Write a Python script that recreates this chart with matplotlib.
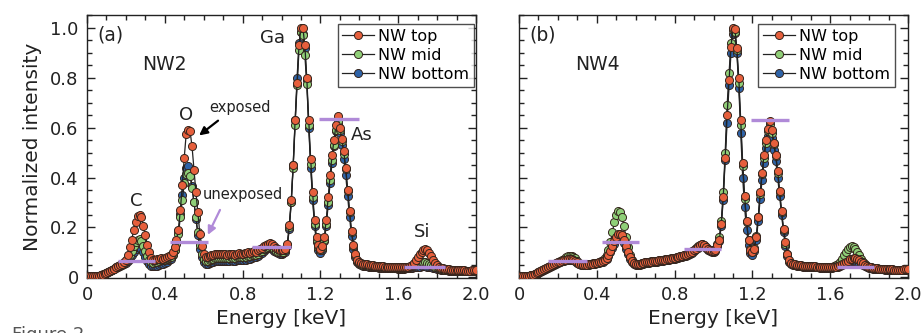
import numpy as np
import matplotlib
matplotlib.use("Agg")
import matplotlib.pyplot as plt
from matplotlib.ticker import MultipleLocator

# ---------------- data ----------------
energy = np.linspace(0.0, 2.0, 201)  # keV channels (10 eV)

nw2_top = [
    0.005,0.005,0.005,0.005,0.005,0.006,0.007,0.008,0.011,0.015,
    0.018,0.022,0.026,0.030,0.035,0.040,0.045,0.050,0.055,0.060,
    0.070,0.090,0.120,0.150,0.190,0.220,0.245,0.250,0.240,0.205,
    0.170,0.130,0.100,0.078,0.068,0.070,0.072,0.075,0.078,0.075,
    0.078,0.080,0.085,0.090,0.100,0.120,0.150,0.190,0.270,0.370,
    0.480,0.575,0.590,0.585,0.525,0.430,0.340,0.260,0.175,0.125,
    0.095,0.082,0.080,0.085,0.088,0.090,0.092,0.095,0.094,0.092,
    0.095,0.092,0.090,0.093,0.095,0.092,0.090,0.094,0.096,0.093,
    0.095,0.098,0.096,0.100,0.098,0.102,0.105,0.103,0.108,0.112,
    0.118,0.125,0.130,0.135,0.138,0.132,0.125,0.118,0.112,0.110,
    0.110,0.110,0.115,0.135,0.210,0.310,0.450,0.630,0.780,0.930,
    1.000,1.000,0.930,0.800,0.630,0.475,0.340,0.230,0.160,0.130,
    0.115,0.125,0.160,0.230,0.320,0.410,0.490,0.550,0.610,0.645,
    0.600,0.555,0.505,0.440,0.350,0.265,0.185,0.130,0.092,0.070,
    0.062,0.058,0.055,0.053,0.052,0.050,0.050,0.048,0.047,0.046,
    0.045,0.045,0.044,0.043,0.043,0.042,0.042,0.041,0.041,0.040,
    0.040,0.040,0.040,0.041,0.042,0.043,0.045,0.050,0.058,0.068,
    0.080,0.092,0.102,0.110,0.113,0.108,0.098,0.085,0.070,0.058,
    0.048,0.042,0.038,0.036,0.034,0.033,0.032,0.031,0.030,0.030,
    0.029,0.029,0.028,0.028,0.028,0.027,0.027,0.027,0.028,0.028,
    0.030]
nw2_mid = [
    0.005,0.005,0.005,0.005,0.006,0.006,0.007,0.009,0.012,0.015,
    0.019,0.022,0.026,0.031,0.035,0.040,0.044,0.050,0.054,0.058,
    0.064,0.075,0.090,0.105,0.125,0.140,0.150,0.152,0.145,0.125,
    0.105,0.085,0.070,0.062,0.058,0.060,0.063,0.066,0.068,0.068,
    0.070,0.073,0.078,0.083,0.092,0.110,0.135,0.175,0.240,0.310,
    0.380,0.415,0.420,0.405,0.360,0.300,0.240,0.180,0.130,0.095,
    0.075,0.066,0.064,0.068,0.072,0.074,0.076,0.078,0.078,0.077,
    0.079,0.078,0.077,0.079,0.080,0.078,0.077,0.080,0.082,0.080,
    0.082,0.084,0.083,0.086,0.085,0.088,0.091,0.090,0.095,0.100,
    0.106,0.112,0.118,0.122,0.124,0.120,0.113,0.107,0.102,0.100,
    0.100,0.102,0.108,0.128,0.200,0.300,0.440,0.610,0.770,0.910,
    0.985,0.970,0.890,0.775,0.610,0.455,0.320,0.215,0.150,0.120,
    0.108,0.118,0.150,0.215,0.300,0.390,0.470,0.530,0.590,0.625,
    0.590,0.545,0.495,0.435,0.345,0.260,0.180,0.125,0.088,0.066,
    0.058,0.054,0.051,0.049,0.048,0.047,0.046,0.045,0.044,0.043,
    0.042,0.042,0.041,0.041,0.040,0.040,0.040,0.039,0.039,0.039,
    0.038,0.038,0.038,0.039,0.040,0.041,0.043,0.046,0.049,0.052,
    0.055,0.058,0.060,0.061,0.060,0.058,0.055,0.051,0.047,0.043,
    0.040,0.036,0.034,0.032,0.031,0.030,0.029,0.029,0.028,0.028,
    0.028,0.027,0.027,0.027,0.026,0.026,0.026,0.027,0.027,0.027,
    0.028]
nw2_bottom = [
    0.004,0.004,0.004,0.005,0.005,0.006,0.007,0.008,0.011,0.014,
    0.017,0.021,0.025,0.029,0.033,0.038,0.042,0.046,0.050,0.054,
    0.058,0.065,0.075,0.088,0.100,0.112,0.120,0.122,0.115,0.100,
    0.082,0.064,0.052,0.046,0.044,0.045,0.047,0.050,0.053,0.055,
    0.058,0.062,0.068,0.075,0.088,0.108,0.140,0.185,0.255,0.330,
    0.400,0.440,0.445,0.420,0.365,0.300,0.235,0.170,0.115,0.080,
    0.060,0.052,0.052,0.056,0.060,0.062,0.064,0.066,0.066,0.065,
    0.067,0.066,0.065,0.067,0.068,0.066,0.065,0.068,0.070,0.068,
    0.070,0.072,0.071,0.074,0.073,0.076,0.080,0.080,0.085,0.092,
    0.098,0.105,0.112,0.116,0.118,0.114,0.106,0.100,0.096,0.094,
    0.094,0.096,0.103,0.125,0.195,0.300,0.450,0.630,0.800,0.940,
    0.985,0.975,0.920,0.790,0.600,0.440,0.310,0.205,0.140,0.108,
    0.098,0.110,0.145,0.205,0.290,0.380,0.460,0.525,0.585,0.615,
    0.580,0.530,0.475,0.410,0.325,0.240,0.165,0.112,0.080,0.060,
    0.052,0.049,0.047,0.045,0.044,0.043,0.042,0.041,0.040,0.040,
    0.039,0.039,0.038,0.038,0.037,0.037,0.037,0.036,0.036,0.036,
    0.035,0.035,0.035,0.035,0.036,0.037,0.038,0.039,0.040,0.041,
    0.042,0.043,0.044,0.044,0.044,0.043,0.042,0.041,0.039,0.037,
    0.035,0.033,0.031,0.030,0.029,0.028,0.027,0.027,0.026,0.026,
    0.026,0.025,0.025,0.025,0.025,0.024,0.024,0.025,0.025,0.025,
    0.026]

nw4_top = [
    0.005,0.005,0.005,0.005,0.006,0.007,0.008,0.010,0.013,0.016,
    0.020,0.024,0.028,0.032,0.036,0.040,0.044,0.048,0.052,0.056,
    0.060,0.063,0.066,0.068,0.070,0.072,0.073,0.072,0.070,0.066,
    0.060,0.055,0.052,0.050,0.050,0.051,0.052,0.054,0.055,0.056,
    0.058,0.060,0.062,0.065,0.070,0.078,0.090,0.105,0.125,0.145,
    0.160,0.172,0.175,0.168,0.150,0.125,0.100,0.080,0.065,0.056,
    0.052,0.052,0.054,0.056,0.058,0.060,0.060,0.062,0.063,0.064,
    0.066,0.066,0.068,0.069,0.070,0.071,0.072,0.074,0.075,0.076,
    0.078,0.080,0.082,0.084,0.086,0.088,0.090,0.092,0.096,0.102,
    0.108,0.115,0.122,0.128,0.132,0.130,0.122,0.114,0.108,0.105,
    0.105,0.110,0.130,0.150,0.215,0.320,0.480,0.650,0.790,0.925,
    1.000,0.995,0.920,0.800,0.632,0.460,0.325,0.225,0.150,0.110,
    0.100,0.115,0.160,0.240,0.340,0.420,0.490,0.550,0.595,0.625,
    0.590,0.540,0.490,0.425,0.345,0.265,0.195,0.140,0.095,0.068,
    0.058,0.054,0.052,0.050,0.049,0.048,0.047,0.046,0.046,0.045,
    0.045,0.044,0.044,0.043,0.043,0.043,0.042,0.042,0.042,0.042,
    0.041,0.041,0.042,0.043,0.045,0.048,0.052,0.057,0.062,0.067,
    0.072,0.075,0.077,0.076,0.073,0.068,0.062,0.056,0.050,0.046,
    0.042,0.040,0.038,0.037,0.036,0.035,0.034,0.034,0.033,0.033,
    0.032,0.032,0.032,0.031,0.031,0.031,0.031,0.031,0.032,0.032,
    0.033]
nw4_mid = [
    0.005,0.005,0.005,0.006,0.006,0.007,0.008,0.010,0.013,0.016,
    0.020,0.024,0.028,0.032,0.036,0.040,0.045,0.049,0.053,0.057,
    0.061,0.065,0.070,0.075,0.080,0.084,0.087,0.087,0.083,0.076,
    0.066,0.058,0.053,0.051,0.051,0.052,0.053,0.055,0.056,0.057,
    0.059,0.062,0.065,0.070,0.078,0.090,0.110,0.140,0.180,0.220,
    0.250,0.265,0.262,0.240,0.205,0.160,0.120,0.090,0.070,0.058,
    0.053,0.053,0.055,0.057,0.059,0.061,0.061,0.063,0.064,0.065,
    0.067,0.067,0.069,0.070,0.071,0.072,0.073,0.075,0.076,0.077,
    0.079,0.081,0.083,0.085,0.087,0.089,0.091,0.094,0.098,0.104,
    0.110,0.117,0.124,0.130,0.134,0.131,0.123,0.115,0.110,0.108,
    0.108,0.115,0.135,0.160,0.225,0.340,0.500,0.690,0.820,0.940,
    0.990,0.985,0.910,0.780,0.610,0.445,0.315,0.220,0.148,0.112,
    0.102,0.118,0.165,0.240,0.335,0.415,0.480,0.540,0.585,0.615,
    0.580,0.535,0.485,0.420,0.340,0.260,0.190,0.135,0.092,0.066,
    0.057,0.053,0.051,0.049,0.048,0.047,0.046,0.046,0.045,0.045,
    0.044,0.044,0.043,0.043,0.043,0.042,0.042,0.042,0.042,0.042,
    0.042,0.043,0.045,0.049,0.055,0.063,0.074,0.088,0.102,0.113,
    0.120,0.124,0.122,0.115,0.103,0.088,0.074,0.062,0.053,0.047,
    0.043,0.040,0.038,0.037,0.036,0.035,0.034,0.034,0.033,0.033,
    0.032,0.032,0.032,0.031,0.031,0.031,0.031,0.031,0.032,0.032,
    0.033]
nw4_bottom = [
    0.004,0.004,0.005,0.005,0.006,0.007,0.008,0.010,0.012,0.015,
    0.019,0.023,0.027,0.031,0.035,0.039,0.043,0.047,0.051,0.055,
    0.058,0.061,0.064,0.066,0.068,0.070,0.071,0.070,0.068,0.064,
    0.058,0.053,0.050,0.048,0.048,0.049,0.050,0.052,0.053,0.054,
    0.056,0.058,0.060,0.063,0.068,0.075,0.086,0.100,0.118,0.135,
    0.148,0.156,0.158,0.152,0.136,0.115,0.093,0.075,0.061,0.053,
    0.049,0.049,0.051,0.053,0.055,0.057,0.057,0.059,0.060,0.061,
    0.063,0.063,0.065,0.066,0.067,0.068,0.069,0.071,0.072,0.073,
    0.075,0.077,0.079,0.081,0.083,0.085,0.087,0.089,0.093,0.099,
    0.105,0.112,0.118,0.124,0.128,0.126,0.118,0.110,0.104,0.101,
    0.101,0.106,0.125,0.145,0.205,0.310,0.470,0.620,0.770,0.900,
    0.975,0.980,0.900,0.760,0.580,0.400,0.280,0.190,0.130,0.098,
    0.090,0.105,0.150,0.225,0.315,0.390,0.460,0.520,0.565,0.595,
    0.560,0.510,0.465,0.400,0.325,0.250,0.180,0.125,0.085,0.062,
    0.054,0.050,0.048,0.046,0.045,0.044,0.043,0.043,0.042,0.042,
    0.041,0.041,0.040,0.040,0.040,0.039,0.039,0.039,0.039,0.039,
    0.039,0.039,0.040,0.041,0.043,0.045,0.048,0.052,0.056,0.060,
    0.063,0.065,0.066,0.065,0.063,0.059,0.055,0.050,0.046,0.042,
    0.039,0.037,0.035,0.034,0.033,0.033,0.032,0.032,0.031,0.031,
    0.030,0.030,0.030,0.030,0.029,0.029,0.029,0.029,0.030,0.030,
    0.031]

# background integration windows (start, end, level)
nw2_bg_start = [0.16, 0.425, 0.85, 1.195, 1.63]
nw2_bg_end   = [0.35, 0.62, 1.05, 1.40, 1.84]
nw2_bg_level = [0.064, 0.14, 0.12, 0.635, 0.04]
nw4_bg_start = [0.15, 0.425, 0.85, 1.195, 1.635]
nw4_bg_end   = [0.35, 0.615, 1.04, 1.39, 1.825]
nw4_bg_level = [0.065, 0.14, 0.115, 0.63, 0.043]

series_labels = ["NW top", "NW mid", "NW bottom"]
xtick_vals = [0, 0.4, 0.8, 1.2, 1.6, 2.0]
xtick_labels = ["0", "0.4", "0.8", "1.2", "1.6", "2.0"]
ytick_vals = [0, 0.2, 0.4, 0.6, 0.8, 1.0]
ytick_labels = ["0", "0.2", "0.4", "0.6", "0.8", "1.0"]

# ---------------- style ----------------
plt.rcParams['font.family'] = ['DejaVu Sans']
fill_colors = {"NW top": "#e65f3c", "NW mid": "#8fcf78", "NW bottom": "#2e63a8"}
edge_color = "#35251d"
line_color = "#222222"
bg_color = "#b08ad8"

W, H = 921, 333
fig = plt.figure(figsize=(W / 100, H / 100), dpi=100)
ax_a = fig.add_axes([87 / W, (H - 278) / H, 389 / W, 263 / H])
ax_b = fig.add_axes([519 / W, (H - 278) / H, 389 / W, 263 / H])

def draw_panel(ax, top, mid, bot, bs, be, bl, legend_anchor):
    handles = {}
    for lab, vals in (("NW bottom", bot), ("NW mid", mid), ("NW top", top)):
        h, = ax.plot(energy, vals, '-', color=line_color, lw=0.9,
                     marker='o', ms=5.8, mfc=fill_colors[lab], mec=edge_color,
                     mew=0.7, label=lab, zorder=3)
        handles[lab] = h
    for s, e, l in zip(bs, be, bl):
        ax.plot([s, e], [l, l], color=bg_color, lw=2.4, solid_capstyle='butt',
                zorder=4)
    ax.set_xlim(0, 2.0)
    ax.set_ylim(-0.003, 1.052)
    ax.set_xticks(xtick_vals)
    ax.set_xticklabels(xtick_labels)
    ax.xaxis.set_minor_locator(MultipleLocator(0.1))
    ax.set_yticks(ytick_vals)
    ax.yaxis.set_minor_locator(MultipleLocator(0.05))
    ax.tick_params(which='both', direction='in', top=True, right=True,
                   labelsize=13, width=1.0, colors='#222222')
    ax.tick_params(which='major', length=6, pad=6)
    ax.tick_params(which='minor', length=3.5)
    for sp in ax.spines.values():
        sp.set_linewidth(1.0)
        sp.set_color('#222222')
    ax.set_xlabel("Energy [keV]", fontsize=14.5, labelpad=3, color='#222222')
    leg = ax.legend([handles[l] for l in series_labels], series_labels,
                    loc='upper right', bbox_to_anchor=legend_anchor,
                    fontsize=11.5, frameon=True, fancybox=False,
                    edgecolor='#222222', handlelength=2.0, handletextpad=0.25,
                    borderpad=0.3, labelspacing=0.25, borderaxespad=0.0)
    leg.get_frame().set_linewidth(1.0)
    leg.set_zorder(10)

draw_panel(ax_a, nw2_top, nw2_mid, nw2_bottom,
           nw2_bg_start, nw2_bg_end, nw2_bg_level, (0.995, 0.965))
draw_panel(ax_b, nw4_top, nw4_mid, nw4_bottom,
           nw4_bg_start, nw4_bg_end, nw4_bg_level, (0.966, 0.965))

ax_a.set_yticklabels(ytick_labels)
ax_b.set_yticklabels([])
ax_a.set_ylabel("Normalized intensity", fontsize=14.5, labelpad=6,
                color='#222222')

tc = '#222222'
# panel (a) annotations
ax_a.text(0.055, 0.97, "(a)", fontsize=13.5, color=tc, va='center', ha='left')
ax_a.text(0.40, 0.855, "NW2", fontsize=13.5, color=tc, va='center', ha='center')
ax_a.text(0.255, 0.305, "C", fontsize=13, color=tc, va='center', ha='center')
ax_a.text(0.51, 0.65, "O", fontsize=13, color=tc, va='center', ha='center')
ax_a.text(0.955, 0.96, "Ga", fontsize=13, color=tc, va='center', ha='center')
ax_a.text(1.415, 0.57, "As", fontsize=13, color=tc, va='center', ha='center')
ax_a.text(1.725, 0.18, "Si", fontsize=13, color=tc, va='center', ha='center')
ax_a.text(0.63, 0.68, "exposed", fontsize=10.5, color=tc, va='center', ha='left')
ax_a.text(0.595, 0.33, "unexposed", fontsize=10.5, color=tc, va='center',
          ha='left')
ax_a.annotate("", xy=(0.565, 0.562), xytext=(0.685, 0.635),
              arrowprops=dict(arrowstyle='-|>', color='black', lw=1.6,
                              mutation_scale=12), zorder=6)
ax_a.annotate("", xy=(0.615, 0.16), xytext=(0.69, 0.28),
              arrowprops=dict(arrowstyle='-|>', color=bg_color, lw=1.6,
                              mutation_scale=12), zorder=6)

# panel (b) annotations
ax_b.text(0.055, 0.97, "(b)", fontsize=13.5, color=tc, va='center', ha='left')
ax_b.text(0.405, 0.855, "NW4", fontsize=13.5, color=tc, va='center',
          ha='center')

fig.text(12 / W, 7 / H, "Figure 2", fontsize=13, color='#555555',
         va='top', ha='left')

fig.savefig("out.png", dpi=100)
